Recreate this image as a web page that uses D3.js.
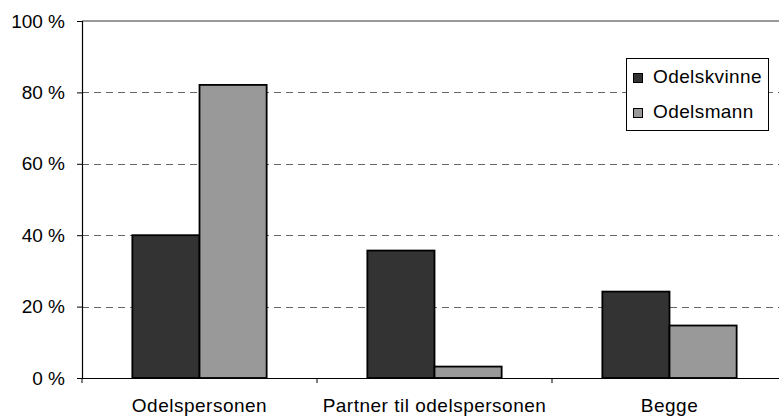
<!DOCTYPE html>
<html>
<head>
<meta charset="utf-8">
<script src="https://cdn.jsdelivr.net/npm/d3@7"></script>
<style>
  html, body { margin: 0; padding: 0; background: #fff; }
  svg { display: block; font-family: "Liberation Sans", Arial, sans-serif; }
</style>
</head>
<body>
<svg id="chart" width="779" height="417"></svg>
<script>
const categories = ["Odelspersonen", "Partner til odelspersonen", "Begge"];
const seriesNames = ["Odelskvinne", "Odelsmann"];
const odelskvinne = [40.0, 35.7, 24.2];
const odelsmann = [82.1, 3.2, 14.7];
const yTicks = [0, 20, 40, 60, 80, 100];
const colors = ["#333333", "#999999"];

const seriesValues = [odelskvinne, odelsmann];
const data = categories.map((c, i) => ({
  category: c,
  values: seriesNames.map((s, j) => ({ series: s, value: seriesValues[j][i] }))
}));

const svg = d3.select("#chart");
const plotLeft = 82, plotTop = 21, plotBottom = 378;
const catStep = 235;
const plotRight = plotLeft + catStep * categories.length;
const FONT = "Liberation Sans, Arial, sans-serif";

const x0 = d3.scaleBand().domain(categories).range([plotLeft, plotRight]).paddingInner(0).paddingOuter(0);
const x1 = d3.scaleBand().domain(seriesNames).range([0, x0.bandwidth()]).paddingInner(0).paddingOuter(0.75);
const y = d3.scaleLinear().domain([0, 100]).range([plotBottom, plotTop]);
const color = d3.scaleOrdinal().domain(seriesNames).range(colors);

// top border of plot area
svg.append("line")
  .attr("x1", plotLeft).attr("x2", plotRight)
  .attr("y1", y(100)).attr("y2", y(100))
  .attr("stroke", "#999").attr("stroke-width", 2);

// gridlines
svg.append("g").selectAll("line")
  .data(yTicks.filter(t => t > 0 && t < 100))
  .join("line")
  .attr("x1", plotLeft).attr("x2", plotRight)
  .attr("y1", d => Math.round(y(d)) + 0.5).attr("y2", d => Math.round(y(d)) + 0.5)
  .attr("stroke", "#666").attr("stroke-width", 1)
  .attr("stroke-dasharray", "7,5");

// bars
const groups = svg.append("g").selectAll("g")
  .data(data).join("g")
  .attr("transform", d => `translate(${x0(d.category)},0)`);
groups.selectAll("rect")
  .data(d => d.values).join("rect")
  .attr("x", d => x1(d.series))
  .attr("y", d => y(d.value))
  .attr("width", x1.bandwidth())
  .attr("height", d => y(0) - y(d.value))
  .attr("fill", d => color(d.series))
  .attr("stroke", "#000").attr("stroke-width", 1.8);

// y axis
const yAxis = svg.append("g")
  .attr("transform", `translate(${plotLeft},0)`)
  .call(d3.axisLeft(y).tickValues(yTicks).tickSize(5).tickPadding(12).tickFormat(d => d + " %"));
yAxis.select(".domain").attr("stroke", "#000").attr("stroke-width", 1.2);
yAxis.selectAll(".tick line").attr("stroke", "#000");
yAxis.selectAll("text")
  .attr("font-size", 19).attr("fill", "#000")
  .attr("font-family", FONT);

// x axis
const xAxis = svg.append("g")
  .attr("transform", `translate(0,${plotBottom})`)
  .call(d3.axisBottom(x0).tickSize(0).tickPadding(21));
xAxis.select(".domain").attr("stroke", "#000").attr("stroke-width", 1.2);
xAxis.selectAll("text")
  .attr("font-size", 19).attr("fill", "#000")
  .attr("font-family", FONT)
  .style("letter-spacing", "0.5px");
// category boundary ticks
svg.append("g").selectAll("line")
  .data(categories)
  .join("line")
  .attr("x1", d => x0(d)).attr("x2", d => x0(d))
  .attr("y1", plotBottom).attr("y2", plotBottom + 5)
  .attr("stroke", "#000");

// legend
const legend = svg.append("g").attr("transform", "translate(626,58)");
legend.append("rect")
  .attr("x", 0.5).attr("y", 0.5).attr("width", 142).attr("height", 72)
  .attr("fill", "#fff").attr("stroke", "#000").attr("stroke-width", 1);
const items = legend.selectAll("g.item")
  .data(seriesNames).join("g").attr("class", "item")
  .attr("transform", (d, i) => `translate(0,${i * 35})`);
items.append("rect")
  .attr("x", 7.5).attr("y", 15.5).attr("width", 9).attr("height", 9)
  .attr("fill", d => color(d)).attr("stroke", "#000").attr("stroke-width", 1);
items.append("text")
  .attr("x", 27).attr("y", 25)
  .attr("font-size", 19).attr("fill", "#000")
  .attr("font-family", FONT)
  .style("letter-spacing", "0.4px")
  .text(d => d);
</script>
</body>
</html>
